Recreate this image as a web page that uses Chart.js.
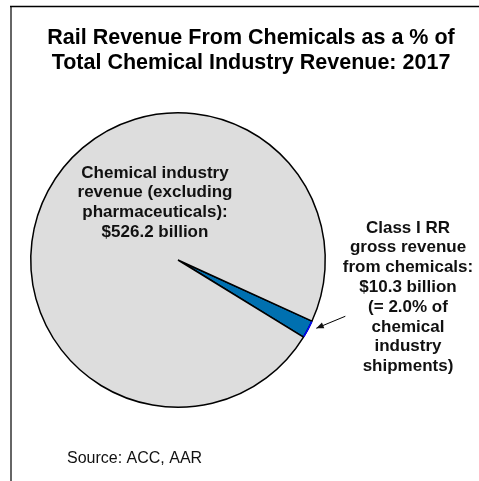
<!DOCTYPE html>
<html>
<head>
<meta charset="utf-8">
<script src="https://cdn.jsdelivr.net/npm/chart.js@4/dist/chart.umd.min.js"></script>
<style>
  html, body { margin: 0; padding: 0; background: #fff; }
  #wrap { width: 479px; height: 481px; position: relative; }
</style>
</head>
<body>
<div id="wrap"><canvas id="pieChart"></canvas></div>
<script>
// Datos del grafico
const categorias = ['Class I RR gross revenue from chemicals', 'Chemical industry revenue (excluding pharmaceuticals)'];
const valores = [10.3, 515.9]; // miles de millones de dolares
const colores = ['#0070b0', '#dddddd'];

const titulo = ['Rail Revenue From Chemicals as a % of', 'Total Chemical Industry Revenue: 2017'];
const etiquetaQuimica = ['Chemical industry', 'revenue (excluding', 'pharmaceuticals):', '$526.2 billion'];
const etiquetaTren = ['Class I RR', 'gross revenue', 'from chemicals:', '$10.3 billion', '(= 2.0% of', 'chemical', 'industry', 'shipments)'];
const fuente = 'Source: ACC, AAR';

// Plugin para marco, titulo, etiquetas y flecha
const anotaciones = {
    id: 'anotaciones',
    beforeDraw(chart) {
        const ctx = chart.ctx;
        ctx.save();
        ctx.fillStyle = '#fff';
        ctx.fillRect(0, 0, chart.width, chart.height);
        // marco
        ctx.strokeStyle = '#666';
        ctx.lineWidth = 2;
        ctx.beginPath();
        ctx.moveTo(11, 6);
        ctx.lineTo(11, chart.height);
        ctx.stroke();
        ctx.strokeStyle = '#000';
        ctx.lineWidth = 1.5;
        ctx.beginPath();
        ctx.moveTo(10, 6.5);
        ctx.lineTo(chart.width, 6.5);
        ctx.stroke();
        ctx.restore();
    },
    afterDatasetsDraw(chart) {
        const ctx = chart.ctx;
        const arco = chart.getDatasetMeta(0).data[0];
        ctx.save();
        // borde exterior azul del sector pequeño
        ctx.strokeStyle = '#0000ff';
        ctx.lineWidth = 1.5;
        ctx.beginPath();
        ctx.arc(arco.x, arco.y, arco.outerRadius, arco.startAngle + 0.004, arco.endAngle - 0.004);
        ctx.stroke();
        ctx.restore();
    },
    afterDraw(chart) {
        const ctx = chart.ctx;
        ctx.save();
        ctx.fillStyle = '#000';
        ctx.textAlign = 'center';
        ctx.textBaseline = 'middle';

        ctx.font = 'bold 21.5px "Liberation Sans", Arial, sans-serif';
        titulo.forEach((t, i) => ctx.fillText(t, 251, 38 + i * 25));

        ctx.fillStyle = '#111';
        ctx.font = 'bold 17px "Liberation Sans", Arial, sans-serif';
        etiquetaQuimica.forEach((t, i) => ctx.fillText(t, 155, 173 + i * 19.8));
        etiquetaTren.forEach((t, i) => ctx.fillText(t, 408, 228 + i * 19.8));

        ctx.textAlign = 'left';
        ctx.font = '16px "Liberation Sans", Arial, sans-serif';
        ctx.fillText(fuente, 67, 459);

        // flecha hacia el sector azul
        const arco = chart.getDatasetMeta(0).data[0];
        const ang = arco.startAngle + (arco.endAngle - arco.startAngle) * 0.25;
        const px = arco.x + Math.cos(ang) * (arco.outerRadius + 7);
        const py = arco.y + Math.sin(ang) * (arco.outerRadius + 7);
        const qx = px + 29, qy = py - 12;
        ctx.strokeStyle = '#000';
        ctx.lineWidth = 1;
        ctx.beginPath();
        ctx.moveTo(qx, qy);
        ctx.lineTo(px, py);
        ctx.stroke();
        const a = Math.atan2(py - qy, px - qx);
        ctx.beginPath();
        ctx.moveTo(px, py);
        ctx.lineTo(px - 8 * Math.cos(a - 0.4), py - 8 * Math.sin(a - 0.4));
        ctx.lineTo(px - 8 * Math.cos(a + 0.4), py - 8 * Math.sin(a + 0.4));
        ctx.closePath();
        ctx.fill();
        ctx.restore();
    }
};

new Chart(document.getElementById('pieChart').getContext('2d'), {
    type: 'pie',
    data: {
        labels: categorias,
        datasets: [{
            data: valores,
            backgroundColor: colores,
            borderColor: '#000',
            borderWidth: 1.5
        }]
    },
    options: {
        responsive: true,
        maintainAspectRatio: false,
        animation: false,
        rotation: 114.5,
        layout: { padding: { left: 30, right: 153, top: 112, bottom: 73 } },
        plugins: {
            legend: { display: false },
            tooltip: { enabled: false }
        }
    },
    plugins: [anotaciones]
});
</script>
</body>
</html>
